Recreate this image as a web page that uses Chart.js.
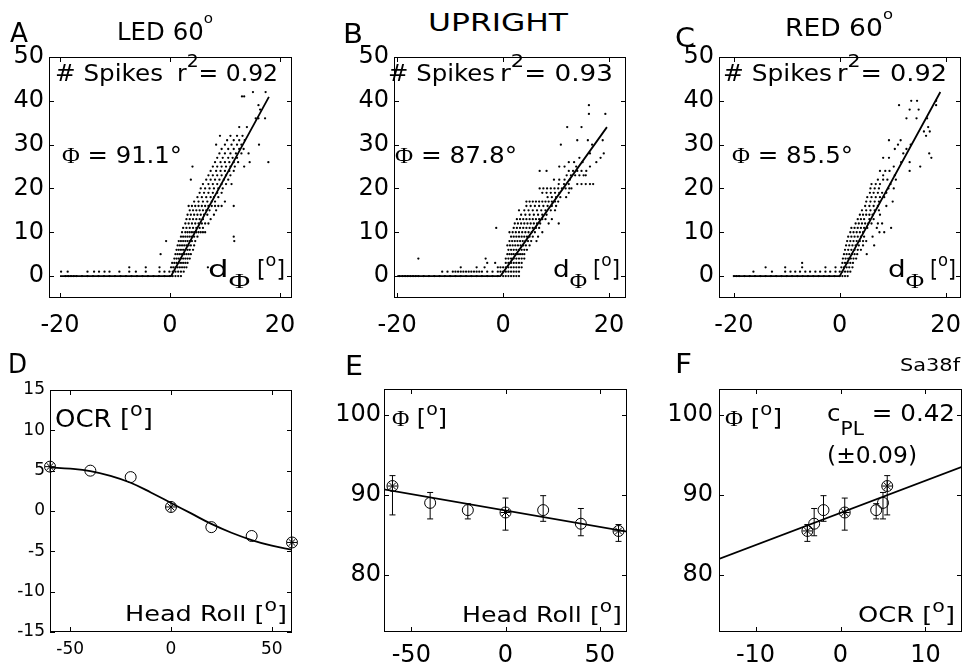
<!DOCTYPE html>
<html><head><meta charset="utf-8">
<script src="https://cdn.jsdelivr.net/npm/chart.js@4"></script>
<style>
body{margin:0;background:#fff;width:967px;height:671px;position:relative;overflow:hidden;font-family:"DejaVu Sans",sans-serif;}
canvas{position:absolute;}
.t{position:absolute;white-space:nowrap;line-height:1;color:#000;transform-origin:0 0;}
.so{font-size:0.62em;position:relative;top:-1.15em;}
.s2{font-size:0.8em;position:relative;top:-0.8em;}
.sb{font-size:0.8em;position:relative;top:-0.6em;}
.sub{font-family:"Liberation Serif",serif;font-size:0.9em;position:relative;top:0.5em;}
.sub2{font-size:0.82em;position:relative;top:0.75em;}
.ph{font-family:"Liberation Serif",serif;}
</style></head>
<body>
<script>
// ---------- DATA ----------
// spike counts (y level) with the d_phi values (x) of the dots at that level
const spikesA = [
 [0,[-19,-18.5,-18,-17.5,-17,-16,-15,-14,-13,-12,-11,-10,-9,-8,-7,-6,-5,-4,-3,-2,-1,0,0.5,1,1.5,2]],
 [1,[-19.8,-18.6,-15,-13.8,-12.9,-11.9,-11,-9.2,-7.4,-6.2,-4.4,-1.9,-1,-0.1,0.5,1,1.5,2,2.5]],
 [2,[-7.4,-4.4,-1.9,0.2,0.6,1,1.4,1.8,2.2,2.6,3,6.9]],
 [3,[0.4,0.8,1.2,1.6,2,2.4,2.8,3.2]],
 [4,[0.8,1.2,1.6,2,2.4,2.8,3.2,3.6]],
 [5,[-1.7,1,1.4,1.8,2.2,2.6,3,3.4,3.8]],
 [6,[1.2,1.6,2,2.4,2.8,3.2,3.6,4.2]],
 [7,[1.4,1.8,2.2,2.6,3,3.4,3.8,4.4]],
 [8,[-0.7,1.6,2,2.4,2.8,3.2,3.6,4,4.6,11.7]],
 [9,[2,2.4,2.8,3.2,3.6,4,4.4,5,11.6]],
 [10,[2.2,2.8,3.2,3.6,4,4.4,4.8,5.2,5.6,6,6.4]],
 [11,[2.4,3,3.6,4.2,4.8,5.4,6]],
 [12,[2.8,3.4,4,4.6,5.2,5.8,6.4,7]],
 [13,[3,3.6,4.2,4.8,5.4,6,7.4]],
 [14,[3.2,3.8,4.4,5,5.6,6.2,6.8,8]],
 [15,[3.6,4.2,4.8,5.4,6,6.6,7.2,8.4]],
 [16,[3.4,4,4.6,5.2,5.8,6.4,7,7.6,8.2,8.8,9.4,11.6]],
 [17,[4.4,5.2,6,6.8,7.6,8.2,10]],
 [18,[5,5.8,6.6,7.4,8,8.8]],
 [19,[5.4,6.2,7,7.8,8.6,9.4]],
 [20,[5.6,6.4,7.2,8,8.8,9.6]],
 [21,[6,7,7.8,8.6,9.4,10.2,11.2]],
 [22,[3.8,6.6,7.4,8.2,9,9.8,10.6]],
 [23,[7,7.8,8.6,9.4,10.2,11]],
 [24,[7.4,8.4,9.2,10,10.8,11.6]],
 [25,[4.1,7.8,8.6,9.4,10.2,11,11.8,13.5]],
 [26,[8.2,9.2,10,10.8,11.6,12.4,14.5,17.9]],
 [27,[8.6,9.6,10.6,11.4,12.2]],
 [28,[9,10,11,12,13,14.3]],
 [29,[9.4,10.6,11.6,12.6,13.4]],
 [30,[8.4,10,11.2,12.2,13,16.2]],
 [31,[10.4,11.6,12.6,13.6]],
 [32,[9.1,11,12.2,13.2]],
 [34,[12.6,14]],
 [36,[15.6,16.1,17.3]],
 [38,[16.4]],
 [39,[16.1]],
 [41,[13.1,13.5]],
 [42,[15.1,17.4]]
];
const spikesB = [
 [0,[-19.6,-19,-18.5,-18,-17.5,-17,-16.5,-16,-15,-14,-13,-12,-11,-10,-9,-8,-7,-6,-5,-4,-3,-2,-1,0,0.5,1,1.5,2,2.5,3]],
 [1,[-11.5,-10.5,-9.5,-9,-8.5,-8,-7.5,-7,-6.5,-6,-5.5,-5,-4.5,-4,-3,-2,-1,-0.5,0,0.5,1,1.5,2,2.5,3]],
 [2,[-8,-5,-3.5,-1,-0.5,0,0.5,1,1.5,2,2.5,3,3.5]],
 [3,[-3,-1.5,0.5,1,1.5,2,2.5,3,3.5]],
 [4,[-16,-3.3,0.5,1,1.5,2,2.5,3,3.5,4]],
 [5,[0.8,1.2,1.6,2,2.4,2.8,3.2,3.6,4]],
 [6,[1,1.5,2,2.5,3,3.5,4,4.5]],
 [7,[0.8,1.3,1.8,2.3,2.8,3.3,3.8,4.3,5]],
 [8,[1.2,1.7,2.2,2.7,3.2,3.7,4.2,4.7,5.3,6.3]],
 [9,[1.5,2,2.5,3,3.5,4,4.5,5,5.6,6.6]],
 [10,[1.2,1.8,2.4,3,3.6,4.2,4.8,5.4,6,7.4]],
 [11,[-1.3,2,2.6,3.2,3.8,4.4,5,5.6,6.2,6.8]],
 [12,[2.2,2.8,3.4,4,4.6,5.2,5.8,6.4,7,8.6,10.5]],
 [13,[2.6,3.2,3.8,4.4,5,5.6,6.2,6.8,7.4,8,9.2]],
 [14,[3.4,4.2,5,5.8,6.6,7.4,8.2]],
 [15,[3,4,4.8,5.6,6.4,7.2,8,9,9.8]],
 [16,[4.4,5.2,6,6.8,7.6,8.4,9.2,10]],
 [17,[4.4,5,5.6,6.2,6.8,7.4,8,8.6,9.2,9.8,10.4]],
 [18,[8.4,9.2,10,10.8,11.9]],
 [19,[7.4,8.2,9,9.8,10.6,12.4]],
 [20,[6.9,7.6,8.3,9,9.7,10.4,11.1,11.8,12.5,12.9]],
 [21,[10.5,11.5,12.4,14,14.8,15.6,16.4,17]],
 [22,[9.6,10.6,11.6,12.6]],
 [23,[12,12.8,13.6,14.4,15.2,15.6]],
 [24,[6.9,8.2,12.4,13.2,14,14.8,15.7]],
 [25,[10.6,11.6,13.8,16.4]],
 [26,[12.4,13.4,15,17.6]],
 [27,[14.4,18.4]],
 [28,[16.4,19]],
 [30,[10.9,16.8]],
 [31,[14,16,18.8]],
 [34,[12.1,14.8]],
 [37,[16.2,19.3]],
 [39,[16.2]]
];
const spikesC = [
 [0,[-20,-19.5,-19,-18,-17,-16,-15,-14,-13,-12,-11,-10,-9,-8,-7,-6,-5,-4,-3,-2,-1,0,0.5,1,1.5]],
 [1,[-16.3,-12.8,-10.3,-9.3,-8.4,-7.5,-6.5,-5.6,-4.6,-3.7,-2.7,-1.8,-0.8,0,0.5,1,1.5,2]],
 [2,[-14,-10.3,-7.1,-2.7,-0.8,0.3,0.8,1.3,1.8,2.4]],
 [3,[-7.1,0.5,1,1.5,2,2.5]],
 [4,[0.6,1.1,1.6,2.1,2.6,3.1]],
 [5,[0.8,1.3,1.8,2.3,2.8,3.3,5.1]],
 [6,[1,1.6,2.2,2.8,3.4,4]],
 [7,[1.2,1.8,2.4,3,3.6,4.4,6.5]],
 [8,[1.4,2,2.6,3.2,3.8,4.4,5]],
 [9,[1.6,2.2,2.8,3.4,4,4.6,6.2]],
 [10,[2,2.6,3.2,3.8,4.4,7.5,8.4]],
 [11,[2.2,2.8,3.4,4,4.6,5.2,7,9.7]],
 [12,[3,3.6,4.2,4.8,5.4,6,7.2,8]],
 [13,[3.4,4,4.6,5.6,6.4]],
 [14,[3.8,4.4,5,5.6,6.2,7.6]],
 [15,[4.2,5,5.8,6.6,7.4]],
 [16,[4.8,5.6,6.4,7.2,8.8]],
 [17,[5,5.8,6.6,7.4,10]],
 [18,[5.2,6,6.8,7.6,8.4]],
 [19,[5.7,6.4,7.2,8,8.8]],
 [20,[5.8,6.6,7.4,9.2,10.2]],
 [21,[6,6.8,7.6,9.6]],
 [22,[7.2,8.2,9,10.6]],
 [23,[8.2,10.4]],
 [24,[7.6,8.6,9.4,13.2]],
 [25,[10.2,15.2]],
 [26,[11.6,13.2]],
 [27,[8.2,9.3,17.3]],
 [28,[12,16.9]],
 [29,[10.4,12.6]],
 [30,[11,13.4]],
 [31,[9.3,11.5]],
 [32,[16.3]],
 [33,[15.9,17]],
 [34,[16.7]],
 [36,[12.6,14.5,16.5]],
 [38,[13.2,14.9]],
 [39,[11.2,18.2]],
 [40,[13.5,14.6,18.2]]
];
// threshold-linear fits (d_phi, spikes)
const fitAX = [-20, 0.2, 18.0], fitAY = [0, 0, 40.9];
const fitBX = [-20, -0.5, 19.6], fitBY = [0, 0, 34.0];
const fitCX = [-20, 0.0, 19.0], fitCY = [0, 0, 42.0];

// head roll tuning
const headRoll = [-60, -40, -20, 0, 20, 40, 60];
const ocr      = [5.5, 5.0, 4.2, 0.5, -2.0, -3.1, -3.9];
const phi      = [91.1, 89.0, 88.1, 87.8, 88.1, 86.4, 85.5];
const phiLo    = [87.5, 87.0, 87.0, 85.6, 86.7, 84.9, 84.2];
const phiHi    = [92.4, 90.3, 88.9, 89.6, 89.9, 88.3, 86.3];
const testedRolls = [-60, 0, 60];          // conditions of panels A-C (starred)
const ocrCurveRoll = [-60,-50,-40,-30,-20,-10,0,10,20,30,40,50,60];
const ocrCurve     = [5.4,5.25,4.95,4.35,3.5,2.3,1.0,-0.3,-1.6,-2.7,-3.6,-4.3,-4.8];
const phiFitRollX = [-65, 65], phiFitRollY = [90.7, 85.4];
const phiFitOcrX  = [-14.3, 14.3], phiFitOcrY = [82.0, 93.5];

// ticks
const ticksSpikes = [0,10,20,30,40,50], ticksDphi = [-20,0,20];
const ticksOcr = [-15,-10,-5,0,5,10,15], ticksRoll = [-50,0,50];
const ticksPhi = [80,90,100], ticksOcrX = [-10,0,10];

// ---------- helpers ----------
const FONT = '"DejaVu Sans", sans-serif';
const pts = (xs, ys) => xs.map((x,i)=>({x, y: ys[i]}));
const rowsToPts = rows => rows.flatMap(([y, xs]) => xs.map(x => ({x, y})));
const isTested = r => testedRolls.includes(r);

const boxPlugin = {
  id: 'box',
  afterDraw(chart) {
    const {ctx, chartArea: a, scales: {x, y}} = chart;
    ctx.save();
    ctx.strokeStyle = '#000'; ctx.lineWidth = 1;
    ctx.strokeRect(a.left + 0.5, a.top + 0.5, a.right - a.left - 1, a.bottom - a.top - 1);
    const L = 5;
    ctx.beginPath();
    x.ticks.forEach(t => {
      const p = Math.round(x.getPixelForValue(t.value)) + 0.5;
      ctx.moveTo(p, a.bottom); ctx.lineTo(p, a.bottom - L);
      ctx.moveTo(p, a.top); ctx.lineTo(p, a.top + L);
    });
    y.ticks.forEach(t => {
      const p = Math.round(y.getPixelForValue(t.value)) + 0.5;
      ctx.moveTo(a.left, p); ctx.lineTo(a.left + L, p);
      ctx.moveTo(a.right, p); ctx.lineTo(a.right - L, p);
    });
    ctx.stroke();
    ctx.restore();
  }
};
const errPlugin = {
  id: 'err',
  beforeDatasetsDraw(chart) {
    const {ctx, scales: {x, y}} = chart;
    chart.data.datasets.forEach(ds => {
      if (!ds.errLo) return;
      ctx.save(); ctx.strokeStyle = '#000'; ctx.lineWidth = 1;
      ctx.beginPath();
      ds.data.forEach((p, j) => {
        const px = x.getPixelForValue(p.x);
        const lo = y.getPixelForValue(ds.errLo[j]), hi = y.getPixelForValue(ds.errHi[j]);
        ctx.moveTo(px, lo); ctx.lineTo(px, hi);
        ctx.moveTo(px - 3, lo); ctx.lineTo(px + 3, lo);
        ctx.moveTo(px - 3, hi); ctx.lineTo(px + 3, hi);
      });
      ctx.stroke(); ctx.restore();
    });
  }
};

function makeChart(rect, c) {
  const Wy = 60, pt = 16, pr = 30, Hx = c.hx;
  const W = Wy + rect.r - rect.l + pr, H = pt + rect.b - rect.t + Hx;
  const cv = document.createElement('canvas');
  cv.width = W; cv.height = H;
  cv.style.left = (rect.l - Wy) + 'px'; cv.style.top = (rect.t - pt) + 'px';
  cv.style.width = W + 'px'; cv.style.height = H + 'px';
  document.body.appendChild(cv);
  const font = {family: FONT, size: c.fs};
  new Chart(cv, {
    type: 'scatter',
    data: {datasets: c.datasets},
    options: {
      responsive: false, animation: false, devicePixelRatio: 1,
      layout: {padding: {top: pt, right: pr, left: 0, bottom: 0}},
      plugins: {legend: {display: false}, tooltip: {enabled: false}},
      scales: {
        x: {type: 'linear', position: 'bottom', min: c.xr[0], max: c.xr[1],
            grid: {display: false, drawTicks: false}, border: {display: false},
            ticks: {font, color: '#000', padding: c.xp, maxRotation: 0, autoSkip: false},
            afterBuildTicks: s => { s.ticks = c.xt.map(v => ({value: v})); },
            afterFit: s => { s.height = Hx; s.paddingLeft = 0; s.paddingRight = 0; }},
        y: {type: 'linear', position: 'left', min: c.yr[0], max: c.yr[1],
            grid: {display: false, drawTicks: false}, border: {display: false},
            ticks: {font, color: '#000', padding: c.yp || 6, autoSkip: false},
            afterBuildTicks: s => { s.ticks = c.yt.map(v => ({value: v})); },
            afterFit: s => { s.width = Wy; s.paddingTop = 0; s.paddingBottom = 0; }}
      }
    },
    plugins: [errPlugin, boxPlugin]
  });
}

const dots = rows => ({data: rowsToPts(rows), pointRadius: 1.15, pointBackgroundColor: '#000', pointBorderWidth: 0});
const fitLine = (xs, ys, extra) => Object.assign({data: pts(xs, ys), showLine: true, borderColor: '#000', borderWidth: 1.8, pointRadius: 0}, extra || {});
const circles = (xs, ys, extra) => Object.assign({data: pts(xs, ys), pointStyle: 'circle', pointRadius: 5.5, borderColor: '#000', borderWidth: 1, backgroundColor: 'rgba(0,0,0,0)', clip: false}, extra || {});
const stars = (xs, ys) => ({data: pts(xs, ys), pointStyle: 'star', pointRadius: 5, borderColor: '#000', borderWidth: 1, clip: false});

const topRow = {fs: 24, hx: 50, xp: 13, yp: 5, xt: ticksDphi, yt: ticksSpikes, yr: [-5, 50]};
makeChart({l:49, r:292, t:57, b:298}, Object.assign({}, topRow, {xr: [-22, 22.2],
  datasets: [dots(spikesA), fitLine(fitAX, fitAY)]}));
makeChart({l:394, r:626, t:57, b:298}, Object.assign({}, topRow, {xr: [-20.6, 23.2],
  datasets: [dots(spikesB), fitLine(fitBX, fitBY)]}));
makeChart({l:719, r:961, t:57, b:298}, Object.assign({}, topRow, {xr: [-22.8, 22.9],
  datasets: [dots(spikesC), fitLine(fitCX, fitCY)]}));

const starRoll = headRoll.filter(isTested);
makeChart({l:50, r:292, t:390, b:632}, {fs: 17, hx: 40, xp: 7, yp: 5, xt: ticksRoll, yt: ticksOcr, xr: [-60, 60], yr: [-15, 15],
  datasets: [fitLine(ocrCurveRoll, ocrCurve, {tension: 0.4}),
             circles(headRoll, ocr),
             stars(starRoll, headRoll.map((r,i)=>[r,ocr[i]]).filter(p=>isTested(p[0])).map(p=>p[1]))]});
makeChart({l:384, r:627, t:389, b:632}, {fs: 24, hx: 50, xp: 9, yp: 3, xt: ticksRoll, yt: ticksPhi, xr: [-64.5, 64.5], yr: [72.9, 103.2],
  datasets: [fitLine(phiFitRollX, phiFitRollY),
             circles(headRoll, phi, {errLo: phiLo, errHi: phiHi}),
             stars(starRoll, headRoll.map((r,i)=>[r,phi[i]]).filter(p=>isTested(p[0])).map(p=>p[1]))]});
makeChart({l:719, r:962, t:389, b:632}, {fs: 24, hx: 50, xp: 9, yp: 6, xt: ticksOcrX, yt: ticksPhi, xr: [-14.3, 14.3], yr: [72.9, 103.2],
  datasets: [fitLine(phiFitOcrX, phiFitOcrY),
             circles(ocr, phi, {errLo: phiLo, errHi: phiHi}),
             stars(ocr.filter((v,i)=>isTested(headRoll[i])), phi.filter((v,i)=>isTested(headRoll[i])))]});

// ---------- text ----------
const texts = [
 [10,22,'A',27,18],
 [117,23,'LED 60<span class="so">o</span>',24,96],
 [55,65,'# Spikes',23,108],
 [177,65,'r<span class="s2">2</span>= 0.92',23,101],
 [62,147,'<span class="ph">Φ</span> = 91.1°',23,120],
 [208,261,'d<span class="sub">Φ</span>',23,42],
 [257,261,'[<span class="sb">o</span>]',23,28],
 [343,23,'B',27,20],
 [428,14,'UPRIGHT',24,140],
 [388,65,'# Spikes',23,107],
 [500,65,'r<span class="s2">2</span>= 0.93',23,113],
 [395,147,'<span class="ph">Φ</span> = 87.8°',23,122],
 [553,261,'d<span class="sub">Φ</span>',23,34],
 [593,261,'[<span class="sb">o</span>]',23,27],
 [675,27,'C',27,20],
 [785,19,'RED 60<span class="so">o</span>',24,108],
 [723,65,'# Spikes',23,109],
 [837,65,'r<span class="s2">2</span>= 0.92',23,110],
 [732,147,'<span class="ph">Φ</span> = 85.5°',23,121],
 [888,261,'d<span class="sub">Φ</span>',23,36],
 [930,261,'[<span class="sb">o</span>]',23,26],
 [8,353,'D',27,19],
 [55,410,'OCR [<span class="sb">o</span>]',24,98],
 [125,606,'Head Roll [<span class="sb">o</span>]',22,162],
 [345,355,'E',27,18],
 [392,410,'<span class="ph">Φ</span> [<span class="sb">o</span>]',23,55],
 [462,607,'Head Roll [<span class="sb">o</span>]',22,160],
 [675,353,'F',27,17],
 [900,359,'Sa38f',17,60],
 [725,410,'<span class="ph">Φ</span> [<span class="sb">o</span>]',23,57],
 [827,405,'c<span class="sub2">PL</span> = 0.42',23,128],
 [827,447,'(±0.09)',23,90],
 [858,607,'OCR [<span class="sb">o</span>]',22,97]
];
texts.forEach(([x, cap, html, size, w]) => {
  const d = document.createElement('div');
  d.className = 't'; d.style.fontSize = size + 'px'; d.innerHTML = html;
  d.style.left = x + 'px'; d.style.top = (cap - 0.117 * size) + 'px';
  document.body.appendChild(d);
  const cw = d.getBoundingClientRect().width;
  if (w && cw) d.style.transform = 'scaleX(' + (w / cw).toFixed(3) + ')';
});
</script>
</body></html>
